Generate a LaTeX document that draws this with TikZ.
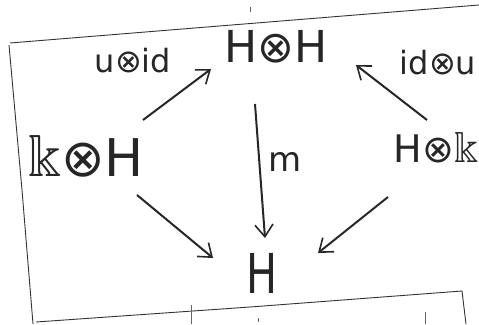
\documentclass[tikz,border=0pt]{standalone}
\usepackage{amssymb}
\usepackage{fontspec}
\setmainfont{DejaVu Sans}
\usetikzlibrary{arrows.meta}
\newcommand{\bbk}{\scalebox{1.15}{$\Bbbk$}}
\begin{document}
\begin{tikzpicture}[x=1pt,y=-1pt,
  obj/.style={inner sep=0pt,text=black!85},
  lbl/.style={inner sep=0pt,text=black!85},
  map/.style={line width=2pt,black!85,-{Straight Barb[length=12pt,width=18pt,line width=1.6pt]}},
  edge/.style={line width=0.9pt,black!80},
  tick/.style={line width=0.6pt,black!60}]
\useasboundingbox (0,0) rectangle (479,324);
% paper outline
\draw[edge] (10,43) -- (170,30) -- (479,5);
\draw[edge] (9,45) -- (22,190) -- (33,324);
\draw[edge] (36,322) -- (250,307) -- (462,291);
\draw[edge] (462,291) -- (466,324);
\draw[tick] (250,7) -- (250,12);
\draw[tick] (191,305) -- (191,324);
\draw[tick] (258,318) -- (258,322);
\draw[tick] (425,312) -- (425,324);
% objects
\node[obj,font=\fontsize{44}{44}\selectfont] (HH) at (276,47) {H⊗H};
\node[obj,font=\fontsize{52}{52}\selectfont] (kH) at (86,156) {\bbk⊗H};
\node[obj,font=\fontsize{38}{38}\selectfont] (Hk) at (436,148) {H⊗\bbk};
\node[obj,font=\fontsize{55}{55}\selectfont] (H) at (262,273) {\scalebox{0.75}[1]{H}};
% arrow end points
\coordinate (kHout1) at (143,120);
\coordinate (HHin1)  at (211,69);
\coordinate (HkOut1) at (427,120);
\coordinate (HHin2)  at (356,65);
\coordinate (HHout)  at (255,104);
\coordinate (Hin0)   at (265,238);
\coordinate (kHout2) at (137,195);
\coordinate (Hin1)   at (213,258);
\coordinate (HkOut2) at (388,197);
\coordinate (Hin2)   at (318,253);
% maps
\draw[map] (kHout1) -- (HHin1);
\draw[map] (HkOut1) -- (HHin2);
\draw[map] (HHout) -- (Hin0);
\draw[map] (kHout2) -- (Hin1);
\draw[map] (HkOut2) -- (Hin2);
% labels
\node[lbl,font=\fontsize{32}{32}\selectfont] (l1) at (133,61) {u⊗id};
\node[lbl,font=\fontsize{32}{32}\selectfont] (l2) at (438,63) {id⊗u};
\node[lbl,font=\fontsize{34}{34}\selectfont] (l3) at (285,162) {m};
\end{tikzpicture}
\end{document}
